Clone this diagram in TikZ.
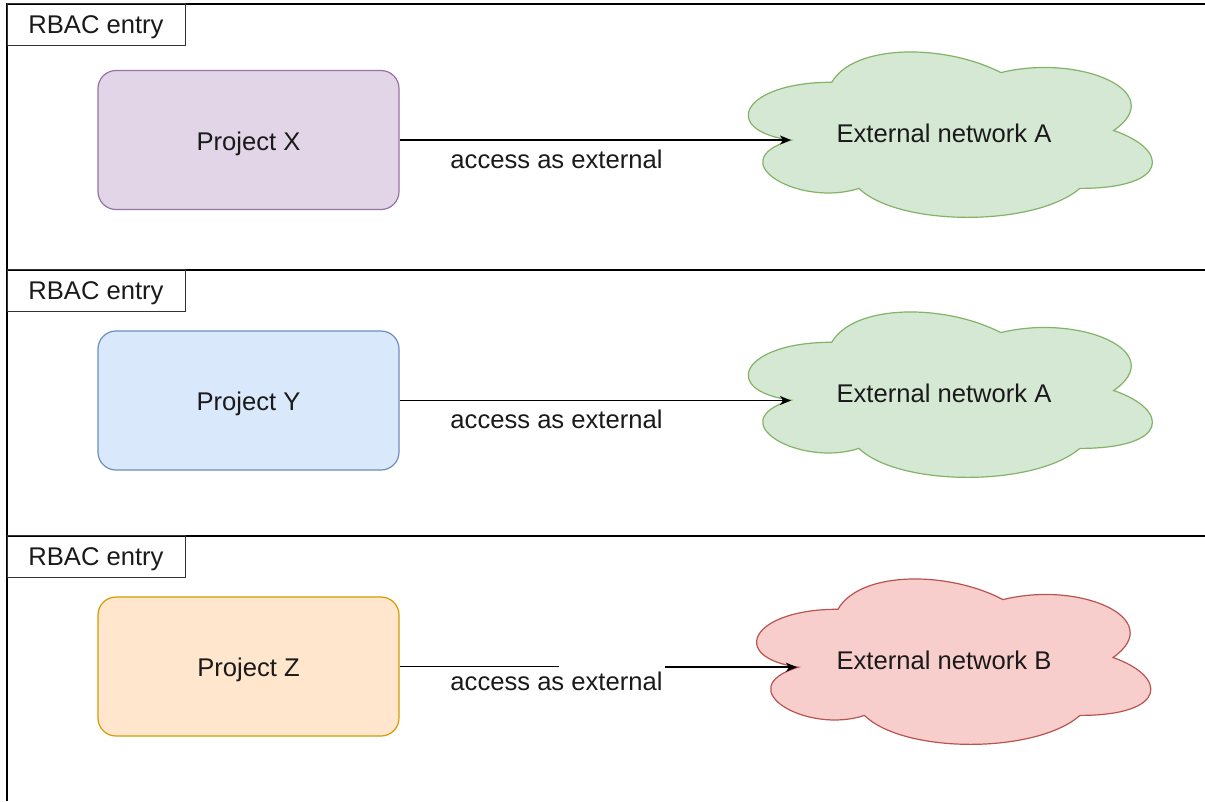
\documentclass[tikz,border=0pt]{standalone}
\usepackage{fontspec}
\setmainfont{Liberation Sans}
\usetikzlibrary{arrows.meta}
\definecolor{pxfill}{HTML}{E1D5E7}\definecolor{pxline}{HTML}{9673A6}
\definecolor{pyfill}{HTML}{DAE8FC}\definecolor{pyline}{HTML}{6C8EBF}
\definecolor{pzfill}{HTML}{FFE6CC}\definecolor{pzline}{HTML}{D79B00}
\definecolor{gnfill}{HTML}{D5E8D4}\definecolor{gnline}{HTML}{82B366}
\definecolor{rdfill}{HTML}{F8CECC}\definecolor{rdline}{HTML}{B85450}
\definecolor{txtcol}{HTML}{1A1A1A}
\newcommand{\cloudpath}[5]{%
  \path[#5] ({#1+0.25*#3},{#2+0.25*#4})
   .. controls ({#1+0.05*#3},{#2+0.25*#4}) and ({#1},{#2+0.5*#4}) .. ({#1+0.16*#3},{#2+0.55*#4})
   .. controls ({#1},{#2+0.66*#4}) and ({#1+0.18*#3},{#2+0.9*#4}) .. ({#1+0.31*#3},{#2+0.8*#4})
   .. controls ({#1+0.4*#3},{#2+#4}) and ({#1+0.7*#3},{#2+#4}) .. ({#1+0.8*#3},{#2+0.8*#4})
   .. controls ({#1+#3},{#2+0.8*#4}) and ({#1+#3},{#2+0.6*#4}) .. ({#1+0.875*#3},{#2+0.5*#4})
   .. controls ({#1+#3},{#2+0.3*#4}) and ({#1+0.8*#3},{#2+0.1*#4}) .. ({#1+0.625*#3},{#2+0.2*#4})
   .. controls ({#1+0.5*#3},{#2+0.05*#4}) and ({#1+0.3*#3},{#2+0.05*#4}) .. cycle;}
\tikzset{
  every node/.style={font=\fontsize{25.6pt}{30pt}\selectfont, text=txtcol},
  frame/.style={draw=black, line width=2pt},
  rbac/.style={draw=black!80, line width=1pt, minimum width=178pt, minimum height=41.5pt,
    inner sep=0pt, text height=17.5pt, text depth=0pt},
  projbox/.style={rounded corners=18pt, line width=1.2pt, minimum width=301pt,
    minimum height=139pt, inner sep=0pt, text height=20pt, text depth=0pt},
  cloudA/.style={fill=gnfill, draw=gnline, line width=1.2pt},
  cloudB/.style={fill=rdfill, draw=rdline, line width=1.2pt},
  lbl/.style={anchor=base, inner sep=0pt},
  arr/.style={draw=black, line width=1.6pt, -{Stealth[length=11pt,width=9pt,inset=3pt]}},
  seg/.style={draw=black, line width=1.6pt}
}
\begin{document}
\begin{tikzpicture}[x=1pt,y=-1pt]
\useasboundingbox (0,0) rectangle (1205,801);
\fill[white] (0,0) rectangle (1205,801);
% swimlane frames
\draw[frame] (7,801) -- (7,3.5) -- (1205,3.5);
\draw[frame] (7,269.5) -- (1205,269.5);
\draw[frame] (7,535.5) -- (1205,535.5);
\node[rbac] (r1) at (96,24.25) {RBAC entry};
\node[rbac] (r2) at (96,290.25) {RBAC entry};
\node[rbac] (r3) at (96,556.25) {RBAC entry};
% projects
\node[projbox, fill=pxfill, draw=pxline] (px) at (248.5,140) {Project X};
\node[projbox, fill=pyfill, draw=pyline] (py) at (248.5,400.5) {Project Y};
\node[projbox, fill=pzfill, draw=pzline] (pz) at (248.5,666.5) {Project Z};
% clouds
\cloudpath{719}{34}{451}{193}{cloudA}
\cloudpath{719}{294}{451}{193}{cloudA}
\cloudpath{728}{561}{440}{193}{cloudB}
\node[lbl] (ca1) at (944,142) {External network A};
\node[lbl] (ca2) at (944,402) {External network A};
\node[lbl] (cb) at (944,669) {External network B};
\coordinate (ca1in) at (791,140);
\coordinate (ca2in) at (791,400.5);
\coordinate (cbin) at (797,667.2);
\coordinate (gapL) at (559,666.5);
\coordinate (gapR) at (665,667.2);
% connectors
\draw[arr] (px.east) -- (ca1in);
\draw[arr] (py.east) -- (ca2in);
\draw[seg] (pz.east) -- (gapL);
\draw[arr] (gapR) -- (cbin);
\node[lbl] (l1) at (556.5,168) {access as external};
\node[lbl] (l2) at (556.5,428) {access as external};
\node[lbl] (l3) at (556.5,690) {access as external};
\end{tikzpicture}
\end{document}
